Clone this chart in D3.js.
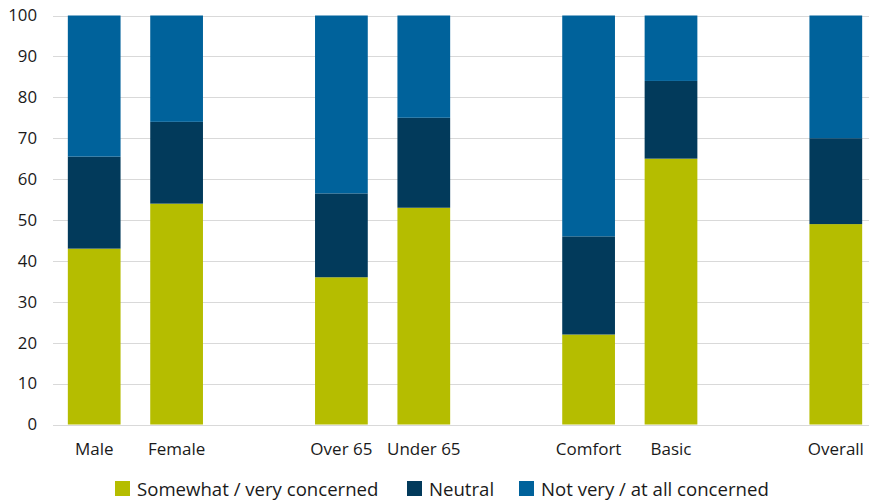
<!DOCTYPE html>
<html>
<head>
<meta charset="utf-8">
<script src="https://cdn.jsdelivr.net/npm/d3@7"></script>
<style>
  html, body { margin: 0; padding: 0; background: #fff; }
  svg { display: block; font-family: "Open Sans", "Noto Sans", sans-serif; }
</style>
</head>
<body>
<svg id="chart" width="869" height="501"></svg>
<script>
// ---- data ----
const slots = ["Male", "Female", null, "Over 65", "Under 65", null, "Comfort", "Basic", null, "Overall"];
const categories = ["Male", "Female", "Over 65", "Under 65", "Comfort", "Basic", "Overall"];
const seriesNames = ["Somewhat / very concerned", "Neutral", "Not very / at all concerned"];
const concerned    = [43, 54, 36, 53, 22, 65, 49];
const neutral      = [22.5, 20, 20.5, 22, 24, 19, 21];
const notConcerned = [34.5, 26, 43.5, 25, 54, 16, 30];
const yTicks = [0, 10, 20, 30, 40, 50, 60, 70, 80, 90, 100];
const colors = ["#b5bd00", "#023a5b", "#00629b"];

// ---- build table ----
const keys = ["concerned", "neutral", "notConcerned"];
const table = categories.map((c, i) => ({
  category: c,
  concerned: concerned[i],
  neutral: neutral[i],
  notConcerned: notConcerned[i]
}));
const stacked = d3.stack().keys(keys)(table);

const svg = d3.select("#chart");
const x = d3.scaleBand().domain(d3.range(slots.length)).range([53, 877]).paddingInner(0.36).paddingOuter(0.18);
const slotOf = c => slots.indexOf(c);
const y = d3.scaleLinear().domain([0, 100]).range([424.5, 15.5]);

// gridlines
svg.append("g")
  .selectAll("line")
  .data(yTicks)
  .join("line")
  .attr("x1", 53).attr("x2", 877)
  .attr("y1", d => Math.round(y(d)) + 0.5).attr("y2", d => Math.round(y(d)) + 0.5)
  .attr("stroke", "#d9d9d9").attr("stroke-width", 1);

// y axis labels
const yAxis = d3.axisLeft(y).tickValues(yTicks).tickSize(0).tickPadding(16);
const gy = svg.append("g").attr("transform", "translate(53,0)").call(yAxis);
gy.select(".domain").remove();
gy.selectAll("text").attr("font-size", 16.8).attr("fill", "#1a1a1a").attr("font-family", "'Open Sans', sans-serif");

// bars
svg.append("g")
  .selectAll("g")
  .data(stacked)
  .join("g")
  .attr("fill", (d, i) => colors[i])
  .selectAll("rect")
  .data(d => d)
  .join("rect")
  .attr("x", d => x(slotOf(d.data.category)))
  .attr("width", x.bandwidth())
  .attr("y", d => y(d[1]))
  .attr("height", d => y(d[0]) - y(d[1]));

// x axis labels
const xAxis = d3.axisBottom(x).tickValues(categories.map(slotOf)).tickFormat(i => slots[i]).tickSize(0).tickPadding(18);
const gx = svg.append("g").attr("transform", "translate(0,424.5)").call(xAxis);
gx.select(".domain").remove();
gx.selectAll("text").attr("font-size", 17).attr("fill", "#1a1a1a").attr("font-family", "'Open Sans', sans-serif");

// legend
const legendX = [115, 407, 519];
const lg = svg.append("g");
seriesNames.forEach((name, i) => {
  lg.append("rect").attr("x", legendX[i]).attr("y", 481).attr("width", 15).attr("height", 15).attr("fill", colors[i]);
  lg.append("text").attr("x", legendX[i] + 22).attr("y", 496)
    .attr("font-size", 18.6).attr("fill", "#1a1a1a").text(name);
});
</script>
</body>
</html>
